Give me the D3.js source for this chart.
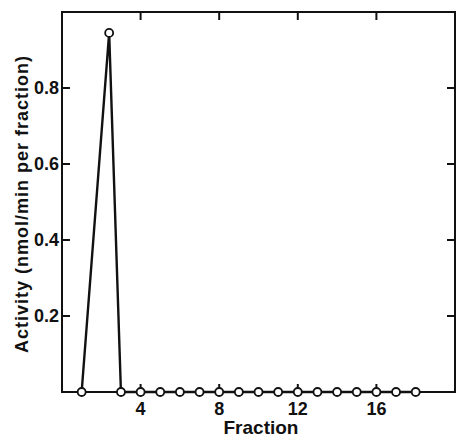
<!DOCTYPE html>
<html>
<head>
<meta charset="utf-8">
<script src="https://cdn.jsdelivr.net/npm/d3@7"></script>
<style>
  body { margin: 0; background: #fff; }
  text { font-family: "Liberation Sans", Arial, sans-serif; font-weight: bold; fill: #111; }
</style>
</head>
<body>
<div class="chart"></div>
<script>
// Data
const fractions = [1, 2.4, 3, 4, 5, 6, 7, 8, 9, 10, 11, 12, 13, 14, 15, 16, 17, 18];
const activity = [0, 0.945, 0, 0, 0, 0, 0, 0, 0, 0, 0, 0, 0, 0, 0, 0, 0, 0];
const xTicks = [4, 8, 12, 16];
const yTicks = [0.2, 0.4, 0.6, 0.8];

const width = 460;
const height = 440;

const svg = d3.select(".chart")
  .append("svg")
  .attr("width", width)
  .attr("height", height);

const x = d3.scaleLinear().domain([0, 20]).range([62, 455]);
const y = d3.scaleLinear().domain([0, 1]).range([392, 12]);

const data = fractions.map((f, i) => ({ f: f, v: activity[i] }));

// frame
svg.append("rect")
  .attr("x", x(0))
  .attr("y", y(1))
  .attr("width", x(20) - x(0))
  .attr("height", y(0) - y(1))
  .attr("fill", "none")
  .attr("stroke", "#111")
  .attr("stroke-width", 2);

// inward ticks on all four sides
const tickLen = 8;
svg.append("g").selectAll("line")
  .data(xTicks)
  .enter()
  .append("line")
  .attr("x1", (d) => x(d)).attr("x2", (d) => x(d))
  .attr("y1", y(0)).attr("y2", y(0) - tickLen)
  .attr("stroke", "#111").attr("stroke-width", 2);

svg.append("g").selectAll("line")
  .data(xTicks)
  .enter()
  .append("line")
  .attr("x1", (d) => x(d)).attr("x2", (d) => x(d))
  .attr("y1", y(1)).attr("y2", y(1) + tickLen)
  .attr("stroke", "#111").attr("stroke-width", 2);

svg.append("g").selectAll("line")
  .data(yTicks)
  .enter()
  .append("line")
  .attr("x1", x(0)).attr("x2", x(0) + tickLen)
  .attr("y1", (d) => y(d)).attr("y2", (d) => y(d))
  .attr("stroke", "#111").attr("stroke-width", 2);

svg.append("g").selectAll("line")
  .data(yTicks)
  .enter()
  .append("line")
  .attr("x1", x(20)).attr("x2", x(20) - tickLen)
  .attr("y1", (d) => y(d)).attr("y2", (d) => y(d))
  .attr("stroke", "#111").attr("stroke-width", 2);

// tick labels
svg.append("g").selectAll("text")
  .data(xTicks)
  .enter()
  .append("text")
  .attr("x", (d) => x(d))
  .attr("y", 415)
  .attr("text-anchor", "middle")
  .attr("font-size", 18)
  .text((d) => d);

svg.append("g").selectAll("text")
  .data(yTicks)
  .enter()
  .append("text")
  .attr("x", x(0) - 3)
  .attr("y", (d) => y(d))
  .attr("dy", "0.35em")
  .attr("text-anchor", "end")
  .attr("font-size", 18)
  .text((d) => d.toFixed(1));

// axis titles
svg.append("text")
  .attr("x", 261)
  .attr("y", 434)
  .attr("text-anchor", "middle")
  .attr("font-size", 19)
  .text("Fraction");

svg.append("text")
  .attr("transform", "translate(28,204) rotate(-90)")
  .attr("text-anchor", "middle")
  .attr("font-size", 18)
  .attr("letter-spacing", 1)
  .text("Activity (nmol/min per fraction)");

// series
const line = d3.line()
  .x((d) => x(d.f))
  .y((d) => y(d.v));

svg.append("path")
  .datum(data)
  .attr("d", line)
  .attr("fill", "none")
  .attr("stroke", "#111")
  .attr("stroke-width", 2.4)
  .attr("stroke-linejoin", "miter");

svg.append("g").selectAll("circle")
  .data(data)
  .enter()
  .append("circle")
  .attr("cx", (d) => x(d.f))
  .attr("cy", (d) => y(d.v))
  .attr("r", 4)
  .attr("fill", "#fff")
  .attr("stroke", "#111")
  .attr("stroke-width", 1.8);
</script>
</body>
</html>
